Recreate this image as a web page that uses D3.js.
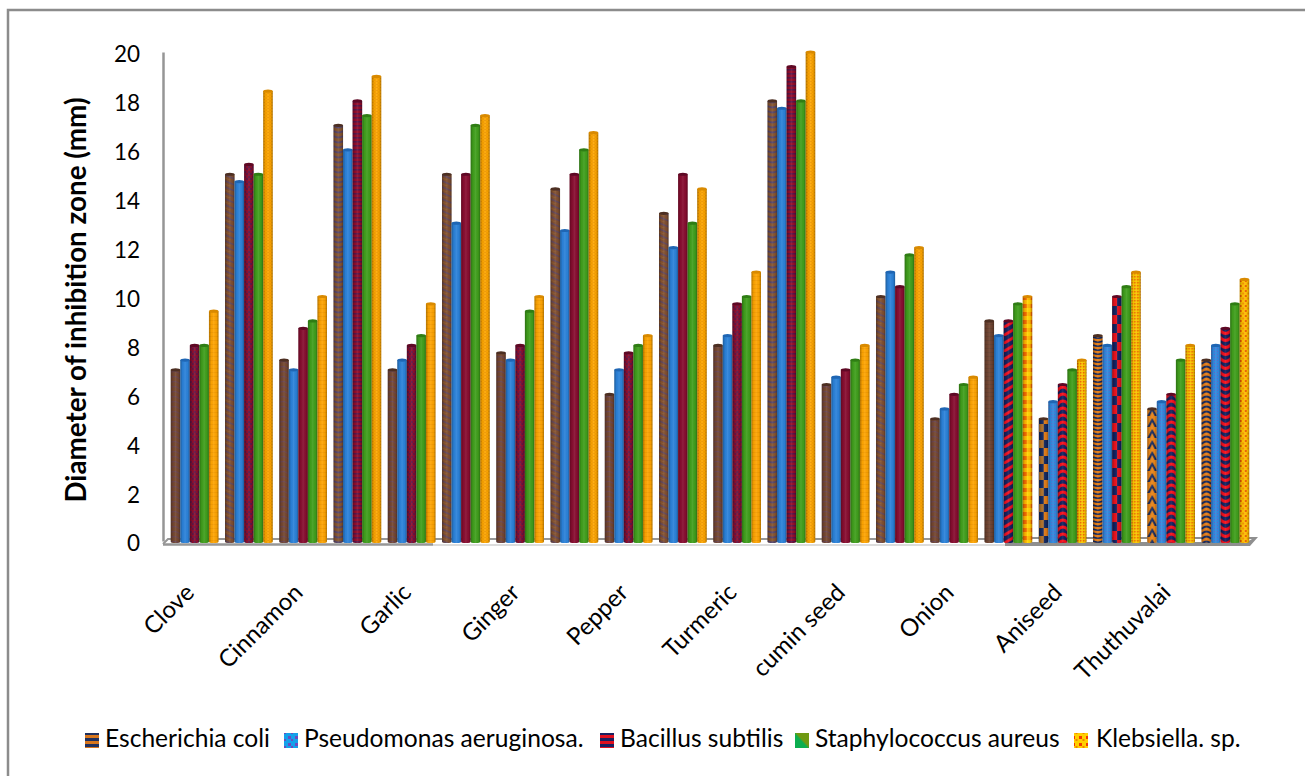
<!DOCTYPE html>
<html>
<head>
<meta charset="utf-8">
<title>Diameter of inhibition zone</title>
<script src="https://cdn.jsdelivr.net/npm/d3@7/dist/d3.min.js"></script>
<style>
  html, body { margin: 0; padding: 0; background: #fff; }
  svg { display: block; }
  text { font-family: Lato, "Open Sans", sans-serif; fill: #000; }
</style>
</head>
<body>
<svg id="chart" width="1305" height="776"></svg>
<script>
// Every second slot along the axis carries a spice name.
const categories = ["Clove", "", "Cinnamon", "", "Garlic", "", "Ginger", "", "Pepper", "",
  "Turmeric", "", "cumin seed", "", "Onion", "", "Aniseed", "", "Thuthuvalai", ""];
const seriesNames = ["Escherichia coli", "Pseudomonas aeruginosa.", "Bacillus subtilis",
  "Staphylococcus aureus", "Klebsiella. sp."];
const yTicks = [0, 2, 4, 6, 8, 10, 12, 14, 16, 18, 20];

const ecoli   = [7, 15, 7.4, 17, 7, 15, 7.7, 14.4, 6, 13.4, 8, 18, 6.4, 10, 5, 9, 5, 8.4, 5.4, 7.4];
const pseudo  = [7.4, 14.7, 7, 16, 7.4, 13, 7.4, 12.7, 7, 12, 8.4, 17.7, 6.7, 11, 5.4, 8.4, 5.7, 8, 5.7, 8];
const bacillus = [8, 15.4, 8.7, 18, 8, 15, 8, 15, 7.7, 15, 9.7, 19.4, 7, 10.4, 6, 9, 6.4, 10, 6, 8.7];
const staph   = [8, 15, 9, 17.4, 8.4, 17, 9.4, 16, 8, 13, 10, 18, 7.4, 11.7, 6.4, 9.7, 7, 10.4, 7.4, 9.7];
const kleb    = [9.4, 18.4, 10, 19, 9.7, 17.4, 10, 16.7, 8.4, 14.4, 11, 20, 8, 12, 6.7, 10, 7.4, 11, 8, 10.7];
const seriesValues = [ecoli, pseudo, bacillus, staph, kleb];

// Surface texture of each bar, slot by slot.
const ecoliTex = ["brownFine", "brownRope", "brownFine", "brownWide", "brownFine", "brownRope", "brownFine", "brownRope",
  "brownFine", "brownRope", "brownFine", "brownWide", "brownFine", "brownRope", "brownFine", "brownPlain",
  "navyCheck", "navyBands", "navyPeaks", "navyArcs"];
const pseudoTex = ["blue", "blue", "blue", "blue", "blue", "blue", "blue", "blue", "blue", "blue",
  "blue", "blue", "blue", "blue", "blue", "blue", "blueDots", "blueDots", "blueDots", "blueDots"];
const bacillusTex = ["wineFine", "wineFine", "wine", "wineBands", "wineFine", "wine", "wineFine", "wine",
  "wineFine", "wine", "wineFine", "wineBands", "wine", "wine", "wine", "redDiag",
  "redScallop", "redCheck", "redScallop", "redScallopUp"];
const staphTex = Array.from(categories, () => "green");
const klebTex = ["amber", "amberBands", "amber", "amberBands", "amber", "amberBands", "amber", "amberBands",
  "amber", "amberBands", "amber", "amberBands", "amber", "amberBands", "amber", "goldCheck",
  "goldFine", "goldFine", "goldFine", "goldBlotch"];
const seriesTextures = [ecoliTex, pseudoTex, bacillusTex, staphTex, klebTex];
const capColors = ["#4d2f22", "#1f66b4", "#5e0824", "#2f7d14", "#d98a00"];
const legendTextures = ["legendBands", "legendDots", "legendRed", "legendGreen", "legendGold"];
const legendKeyX = [85, 284, 600, 795, 1074];
const legendTextX = [105, 304, 620, 815, 1096];

const svg = d3.select("#chart");
const defs = svg.append("defs");

// A tile is a background colour plus a few shapes, anchored to the bar's left edge.
function tile(id, w, h, bg, shapes) {
  const p = defs.append("pattern").attr("id", id).attr("patternUnits", "userSpaceOnUse")
    .attr("width", w).attr("height", h);
  p.append("rect").attr("width", w).attr("height", h).attr("fill", bg);
  shapes.forEach(s => {
    const e = p.append(s.tag || "path");
    Object.entries(s).forEach(([k, v]) => { if (k !== "tag") e.attr(k, v); });
  });
}
const box = (x, y, width, height, fill) => ({ tag: "rect", x, y, width, height, fill });
const curve = (d, stroke, w) => ({ d, fill: "none", stroke, "stroke-width": w });

tile("brownPlain", 10, 4, "#6f4330", [box(0, 0, 10, 1, "#65402f")]);
tile("brownFine", 10, 5, "#74462f", [curve("M0 2Q5 0 10 4", "#664356", 1)]);
tile("brownRope", 10, 6, "#7f4e30", [curve("M0 1L10 5", "#62475a", 1.6), curve("M0 4L10 8", "#8f5a2e", 1)]);
tile("brownWide", 10, 5, "#85542e", [curve("M0 1Q5 4 10 1", "#55456a", 1.8)]);
tile("navyCheck", 10, 16, "#e07c18", [box(0, 0, 5, 8, "#12285f"), box(5, 8, 5, 8, "#12285f"), box(0, 8, 5, 8, "#b0722a")]);
tile("navyBands", 10, 4, "#e57c15", [curve("M0 1Q5 3.5 10 1", "#12285f", 1.7)]);
tile("navyPeaks", 10, 11, "#e98518", [{ d: "M5 0L10 9H0Z", fill: "#12285f" }, { d: "M5 4L8 10H2Z", fill: "#e98518" }]);
tile("navyArcs", 10, 5, "#e57c15", [curve("M0 4Q5 -1 10 4", "#12285f", 1.9)]);
tile("blue", 10, 10, "#2b82da", []);
tile("blueDots", 3, 3, "#2a8ce0", [box(0, 0, 1, 1, "#6b60c4"), box(1.5, 1.5, 1, 1, "#4d6fd0")]);
tile("wine", 10, 10, "#880d30", []);
tile("wineFine", 4, 5, "#8c0c2c", [box(0, 1, 2, 2, "#5f1444"), box(2, 3, 2, 2, "#5f1444")]);
tile("wineBands", 10, 4, "#930b2a", [box(0, 1, 10, 1.6, "#581448")]);
tile("redDiag", 10, 8, "#14205f", [curve("M-1 8L11 1", "#f01020", 3)]);
tile("redScallop", 10, 7, "#12205f", [curve("M-1 6Q5 -2 11 6", "#f50f1c", 3)]);
tile("redScallopUp", 10, 7, "#12205f", [curve("M-1 1Q5 8 11 1", "#f50f1c", 3)]);
tile("redCheck", 10, 18, "#e8101c", [box(0, 0, 5, 9, "#12205f"), box(5, 9, 5, 9, "#12205f")]);
tile("green", 10, 10, "#409f1c", []);
tile("amber", 10, 4, "#ffa502", [box(0, 0, 10, 1, "#f59c00")]);
tile("amberBands", 4, 3, "#ffa800", [box(0, 0, 2, 1, "#ee9400"), box(2, 1.5, 2, 1, "#ee9400")]);
tile("goldCheck", 8, 8, "#ffb400", [box(0, 0, 4, 4, "#f26a00"), box(4, 4, 4, 4, "#ffd400")]);
tile("goldFine", 3, 3, "#ffc000", [box(0, 0, 1.5, 1.5, "#ef6c00"), box(1.5, 1.5, 1.5, 1.5, "#f7d000")]);
tile("goldBlotch", 5, 5, "#ffc400", [box(0, 0, 2, 2, "#ee6200"), box(2.5, 2.5, 2, 2, "#f58a00")]);
tile("legendBands", 14, 6, "#d8761c", [box(0, 0, 14, 3, "#20305e")]);
tile("legendDots", 7, 7, "#14a0ea", [box(1, 1, 3, 3, "#6a4cc0"), box(4, 4, 2, 2, "#6a4cc0")]);
tile("legendRed", 14, 6, "#e01020", [box(0, 0, 14, 3, "#1a2060")]);
tile("legendGold", 7, 7, "#ffd000", [box(1, 1, 3, 3, "#f23a00"), box(4.5, 4, 2, 2, "#f58000")]);
const greenKey = defs.append("linearGradient").attr("id", "legendGreen")
  .attr("x1", 0).attr("y1", 1).attr("x2", 1).attr("y2", 0);
greenKey.append("stop").attr("offset", 0.45).attr("stop-color", "#0cae50");
greenKey.append("stop").attr("offset", 0.55).attr("stop-color", "#6f9a12");

// Rounded look of the cylinders, laid over the texture.
const shade = defs.append("linearGradient").attr("id", "cylShade");
[[0, "#000", 0.3], [0.25, "#000", 0.03], [0.5, "#fff", 0.08], [0.78, "#000", 0.03], [1, "#000", 0.3]]
  .forEach(([o, c, a]) => shade.append("stop").attr("offset", o).attr("stop-color", c).attr("stop-opacity", a));

// Chart frame runs off the right and bottom of the page.
svg.append("rect").attr("x", 8).attr("y", 10).attr("width", 1306).attr("height", 780)
  .attr("fill", "#fff").attr("stroke", "#8c8c8c").attr("stroke-width", 2.5);

const slots = d3.range(categories.length);
const x = d3.scaleBand().domain(slots).range([167.5, 1252.5]);
const inner = d3.scaleBand().domain(d3.range(seriesNames.length))
  .range([0, x.step()]).paddingOuter(0.34).paddingInner(0);
const y = d3.scaleLinear().domain([0, 20]).range([541, 52]);

// Floor of the 3-D plot: thin rails on the left, a solid slab under the last slots.
const floorY = y(0);
const floor = svg.append("g").attr("fill", "none").attr("stroke", "#969696");
floor.append("path").attr("stroke-width", 2).attr("d", `M163 ${floorY + 3}L168 ${floorY - 2}H1010`);
floor.append("path").attr("stroke-width", 2.5).attr("d", `M163 ${floorY + 3.5}H433`);
floor.append("path").attr("stroke", "#dcdcdc").attr("stroke-width", 2).attr("d", `M433 ${floorY + 4}H1006`);
svg.append("path").attr("fill", "#8f8f8f")
  .attr("d", `M1005 ${floorY + 5}V${floorY + 1}H1247L1252 ${floorY - 2}H1005V${floorY - 4}H1258L1250 ${floorY + 5}Z`);

// Value axis.
const yAxis = svg.append("g").attr("transform", "translate(163,0)")
  .call(d3.axisLeft(y).tickValues(yTicks).tickSize(0).tickPadding(23));
yAxis.select(".domain").attr("stroke", "#969696").attr("stroke-width", 2.5);
yAxis.selectAll("text").attr("font-size", 22.5).attr("dy", "0.44em").style("font-family", "Lato");

// Cylinders.
const capRy = 1.6;
const bars = svg.append("g").selectAll("g").data(seriesNames).join("g")
  .selectAll("g").data((_, s) => slots.map(i => ({ s, i, v: seriesValues[s][i] }))).join("g")
  .attr("transform", d => `translate(${x(d.i) + inner(d.s)},0)`);
const bw = inner.bandwidth();
const bodyPath = d => {
  const top = y(d.v), base = y(0) + 0.5;
  return `M0 ${top}V${base}A${bw / 2} ${capRy} 0 0 0 ${bw} ${base}V${top}Z`;
};
bars.append("path").attr("d", bodyPath).attr("fill", d => `url(#${seriesTextures[d.s][d.i]})`);
bars.append("path").attr("d", bodyPath).attr("fill", "url(#cylShade)");
bars.append("ellipse").attr("cx", bw / 2).attr("cy", d => y(d.v)).attr("rx", bw / 2).attr("ry", capRy)
  .attr("fill", d => capColors[d.s]);

// Category axis with slanted names.
const xAxis = svg.append("g").attr("transform", `translate(0,${y(0)})`)
  .call(d3.axisBottom(x).tickValues(slots.filter(i => categories[i])).tickFormat(i => categories[i]).tickSize(0));
xAxis.select(".domain").remove();
xAxis.selectAll("text").attr("font-size", 24).attr("text-anchor", "end").attr("dy", 0).attr("y", 0)
  .attr("transform", "translate(1,53) rotate(-45)").style("font-family", "Lato");

// Axis title.
svg.append("text").attr("transform", "translate(86,300) rotate(-90)").attr("text-anchor", "middle")
  .attr("font-size", 27.8).attr("font-weight", 700).text("Diameter of inhibition zone (mm)");

// Legend.
const legend = svg.append("g").selectAll("g").data(seriesNames).join("g");
legend.append("rect").attr("x", (_, i) => legendKeyX[i]).attr("y", 733).attr("width", 14).attr("height", 15)
  .attr("fill", (_, i) => `url(#${legendTextures[i]})`);
legend.append("text").attr("x", (_, i) => legendTextX[i]).attr("y", 747).attr("font-size", 24.6).text(d => d);
</script>
</body>
</html>
